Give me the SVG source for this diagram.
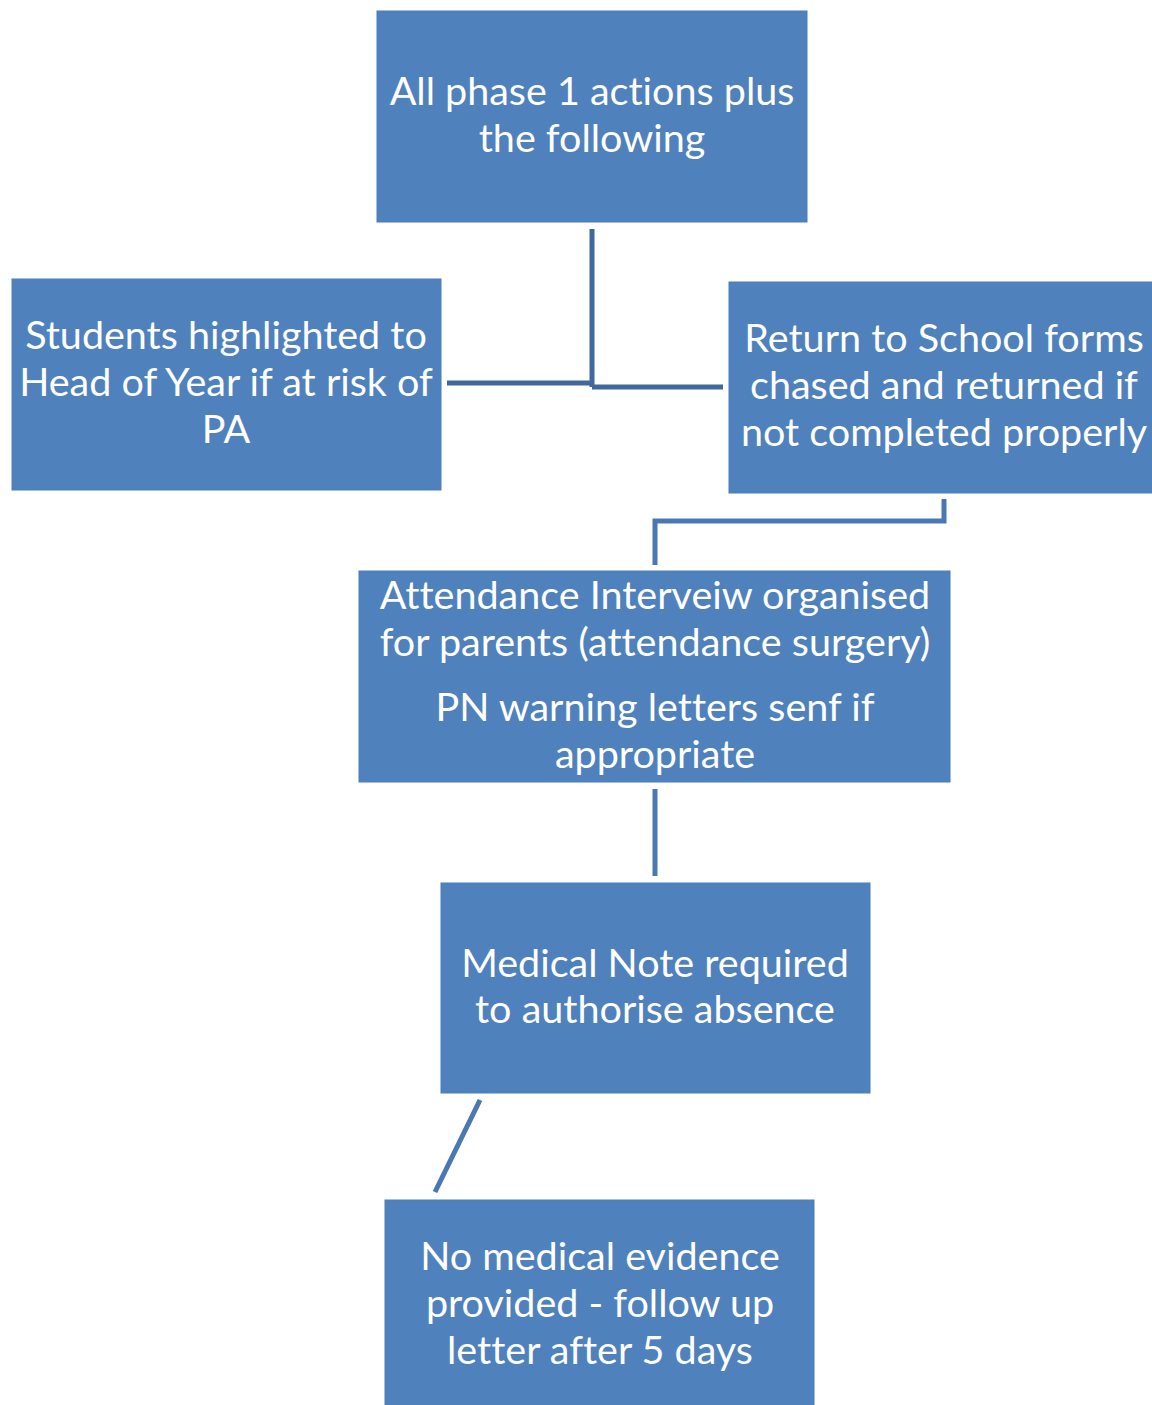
<svg xmlns="http://www.w3.org/2000/svg" width="1152" height="1405" viewBox="0 0 1152 1405">
<style>
.box{fill:#4F81BD;stroke:#4A7EBB;stroke-width:1}
.t{font-family:Lato,"Open Sans","Liberation Sans",sans-serif;font-size:39.5px;fill:#FFFFFF;text-anchor:middle;font-variant-ligatures:none}
.c{fill:none;stroke:#41689A;stroke-width:5}
.c2{fill:none;stroke:#4A78B3;stroke-width:5}
</style>
<rect width="1152" height="1405" fill="#FFFFFF"/>
<g id="connectors">
<path class="c" d="M592,229 V387"/>
<path class="c" d="M447,383 H592"/>
<path class="c" d="M592,387 H723"/>
<path class="c2" d="M944,499 V521 H655 V565"/>
<path class="c2" d="M655,789 V876"/>
<path class="c2" d="M480,1100 L435,1192"/>
</g>
<g id="n1"><rect class="box" x="377" y="11" width="430" height="211"/>
<text class="t" x="592" y="105">All phase 1 actions plus</text>
<text class="t" x="592" y="152">the following</text></g>
<g id="n2"><rect class="box" x="12" y="279" width="429" height="211"/>
<text class="t" x="226" y="349">Students highlighted to</text>
<text class="t" x="226" y="396">Head of Year if at risk of</text>
<text class="t" x="226" y="443">PA</text></g>
<g id="n3"><rect class="box" x="729" y="282" width="424" height="211"/>
<text class="t" x="944" y="352">Return to School forms</text>
<text class="t" x="944" y="399">chased and returned if</text>
<text class="t" x="944" y="446">not completed properly</text></g>
<g id="n4"><rect class="box" x="359" y="571" width="591" height="211"/>
<text class="t" x="655" y="609">Attendance Interveiw organised</text>
<text class="t" x="655" y="656">for parents (attendance surgery)</text>
<text class="t" x="655" y="721">PN warning letters senf if</text>
<text class="t" x="655" y="768">appropriate</text></g>
<g id="n5"><rect class="box" x="441" y="883" width="429" height="210"/>
<text class="t" x="655" y="977">Medical Note required</text>
<text class="t" x="655" y="1023">to authorise absence</text></g>
<g id="n6"><rect class="box" x="385" y="1200" width="429" height="210"/>
<text class="t" x="600" y="1270">No medical evidence</text>
<text class="t" x="600" y="1317">provided - follow up</text>
<text class="t" x="600" y="1364">letter after 5 days</text></g>
</svg>
